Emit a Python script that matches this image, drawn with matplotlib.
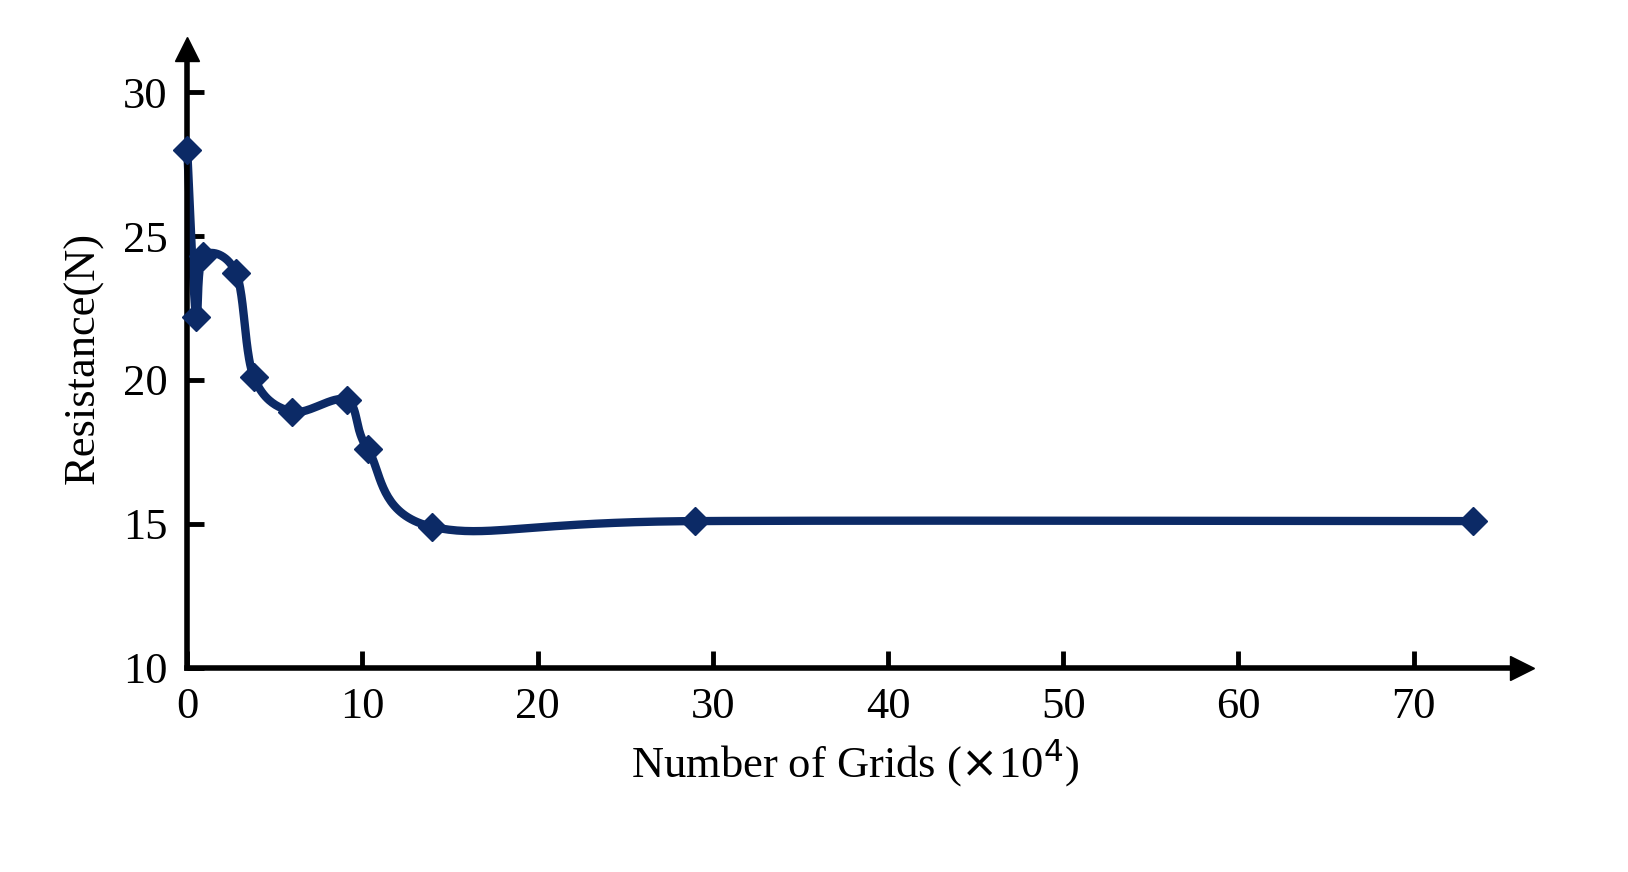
import numpy as np
import matplotlib.pyplot as plt

# data
grids = [0.0, 0.5, 0.9, 2.8, 3.8, 6.0, 9.1, 10.3, 14.0, 29.0, 73.4]
resistance = [28.0, 22.2, 24.3, 23.7, 20.1, 18.9, 19.3, 17.6, 14.9, 15.1, 15.1]

xticks = [0, 10, 20, 30, 40, 50, 60, 70]
yticks = [10, 15, 20, 25, 30]

LINE = '#0c2a66'


def smooth(x, y, sx, sy, n=40):
    # Catmull-Rom spline in scaled space, like a spreadsheet "smoothed line"
    p = np.column_stack([np.asarray(x) / sx, np.asarray(y) / sy])
    p = np.vstack([p[0], p, p[-1]])
    out = []
    for i in range(1, len(p) - 2):
        p0, p1, p2, p3 = p[i - 1], p[i], p[i + 1], p[i + 2]
        t = np.linspace(0, 1, n)[:, None]
        seg = 0.5 * ((2 * p1) + (-p0 + p2) * t + (2 * p0 - 5 * p1 + 4 * p2 - p3) * t**2
                     + (-p0 + 3 * p1 - 3 * p2 + p3) * t**3)
        out.append(seg)
    out = np.vstack(out)
    return out[:, 0] * sx, out[:, 1] * sy


plt.rcParams['font.family'] = ['Liberation Serif', 'DejaVu Serif']

fig = plt.figure(figsize=(16.28, 8.72), dpi=100)
ax = fig.add_axes([0.115, 0.234, 0.82, 0.71])

xs, ys = smooth(grids, resistance, 1 / 17.6, 1 / 29.0)
ax.plot(xs, ys, color=LINE, lw=6, solid_capstyle='round', zorder=2, clip_on=False)
ax.plot(grids, resistance, linestyle='none', marker='D', ms=14, color=LINE, zorder=3, clip_on=False)

ax.set_xlim(0, 76.2)
ax.set_ylim(10, 31.5)
ax.set_xticks(xticks)
ax.set_yticks(yticks)
ax.tick_params(axis='both', labelsize=32, width=3.5, length=12, direction='in', pad=14)
for s in ['top', 'right']:
    ax.spines[s].set_visible(False)
for s in ['left', 'bottom']:
    ax.spines[s].set_linewidth(4)

# arrow heads on the axis ends
ax.plot(1, 0, '>k', ms=17, transform=ax.transAxes, clip_on=False)
ax.plot(0, 1, '^k', ms=17, transform=ax.transAxes, clip_on=False)

ax.set_xlabel('Number of Grids ($\\times$10$^{4}$)', fontsize=32, labelpad=6)
ax.set_ylabel('Resistance(N)', fontsize=32, labelpad=14)

fig.savefig('out.png', dpi=100, facecolor='white')
